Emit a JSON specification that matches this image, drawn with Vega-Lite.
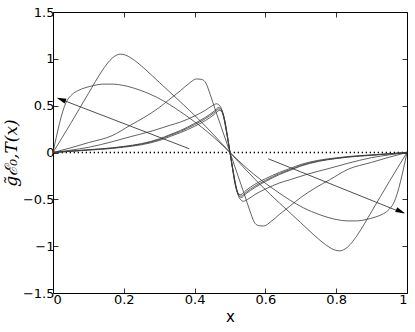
{
  "$schema": "https://vega.github.io/schema/vega-lite/v6.json",
  "width": 354,
  "height": 281,
  "autosize": "none",
  "padding": {"left": 53, "top": 12, "right": 8, "bottom": 39},
  "background": "white",
  "config": {
    "view": {"stroke": null},
    "axis": {
      "domainColor": "#000000",
      "domainWidth": 1,
      "tickColor": "#000000",
      "tickSize": -5,
      "tickWidth": 0.8,
      "grid": false,
      "labelFont": "DejaVu Sans",
      "labelFontSize": 13,
      "labelColor": "#000000",
      "titleColor": "#000000",
      "titleFontWeight": "normal"
    }
  },
  "datasets": {
    "curves": [
      {"s":"A","x":0,"y":0},{"s":"A","x":0.05,"y":0.31},{"s":"A","x":0.1,"y":0.63},{"s":"A","x":0.14,"y":0.88},{"s":"A","x":0.16,"y":0.98},{"s":"A","x":0.175,"y":1.03},{"s":"A","x":0.19,"y":1.05},{"s":"A","x":0.205,"y":1.04},{"s":"A","x":0.22,"y":1.01},{"s":"A","x":0.24,"y":0.955},{"s":"A","x":0.26,"y":0.89},{"s":"A","x":0.3,"y":0.75},{"s":"A","x":0.33,"y":0.645},{"s":"A","x":0.36,"y":0.54},{"s":"A","x":0.41,"y":0.36},{"s":"A","x":0.455,"y":0.185},{"s":"A","x":0.5,"y":0},
      {"s":"A","x":0.545,"y":-0.185},{"s":"A","x":0.59,"y":-0.36},{"s":"A","x":0.64,"y":-0.54},{"s":"A","x":0.67,"y":-0.645},{"s":"A","x":0.7,"y":-0.75},{"s":"A","x":0.74,"y":-0.89},{"s":"A","x":0.76,"y":-0.955},{"s":"A","x":0.78,"y":-1.01},{"s":"A","x":0.795,"y":-1.04},{"s":"A","x":0.81,"y":-1.05},{"s":"A","x":0.825,"y":-1.03},{"s":"A","x":0.84,"y":-0.98},{"s":"A","x":0.86,"y":-0.88},{"s":"A","x":0.9,"y":-0.63},{"s":"A","x":0.95,"y":-0.31},{"s":"A","x":1,"y":0},

      {"s":"B","x":0,"y":0},{"s":"B","x":0.037,"y":0.535},{"s":"B","x":0.054,"y":0.62},{"s":"B","x":0.07,"y":0.66},{"s":"B","x":0.09,"y":0.69},{"s":"B","x":0.115,"y":0.715},{"s":"B","x":0.14,"y":0.73},{"s":"B","x":0.17,"y":0.73},{"s":"B","x":0.2,"y":0.715},{"s":"B","x":0.246,"y":0.665},{"s":"B","x":0.293,"y":0.59},{"s":"B","x":0.33,"y":0.51},{"s":"B","x":0.36,"y":0.435},{"s":"B","x":0.41,"y":0.3},{"s":"B","x":0.455,"y":0.16},{"s":"B","x":0.5,"y":0},
      {"s":"B","x":0.545,"y":-0.16},{"s":"B","x":0.59,"y":-0.3},{"s":"B","x":0.64,"y":-0.435},{"s":"B","x":0.67,"y":-0.51},{"s":"B","x":0.707,"y":-0.59},{"s":"B","x":0.754,"y":-0.665},{"s":"B","x":0.8,"y":-0.715},{"s":"B","x":0.83,"y":-0.73},{"s":"B","x":0.86,"y":-0.73},{"s":"B","x":0.885,"y":-0.715},{"s":"B","x":0.91,"y":-0.69},{"s":"B","x":0.93,"y":-0.66},{"s":"B","x":0.946,"y":-0.62},{"s":"B","x":0.963,"y":-0.535},{"s":"B","x":1,"y":0},

      {"s":"C","x":0,"y":0},{"s":"C","x":0.05,"y":0.05},{"s":"C","x":0.1,"y":0.105},{"s":"C","x":0.167,"y":0.18},{"s":"C","x":0.218,"y":0.29},{"s":"C","x":0.26,"y":0.38},{"s":"C","x":0.3,"y":0.48},{"s":"C","x":0.33,"y":0.57},{"s":"C","x":0.36,"y":0.66},{"s":"C","x":0.385,"y":0.74},{"s":"C","x":0.405,"y":0.785},{"s":"C","x":0.42,"y":0.78},{"s":"C","x":0.432,"y":0.74},{"s":"C","x":0.444,"y":0.62},{"s":"C","x":0.46,"y":0.44},{"s":"C","x":0.48,"y":0.22},{"s":"C","x":0.5,"y":0},
      {"s":"C","x":0.52,"y":-0.22},{"s":"C","x":0.54,"y":-0.44},{"s":"C","x":0.556,"y":-0.62},{"s":"C","x":0.568,"y":-0.74},{"s":"C","x":0.58,"y":-0.78},{"s":"C","x":0.595,"y":-0.785},{"s":"C","x":0.615,"y":-0.74},{"s":"C","x":0.64,"y":-0.66},{"s":"C","x":0.67,"y":-0.57},{"s":"C","x":0.7,"y":-0.48},{"s":"C","x":0.74,"y":-0.38},{"s":"C","x":0.782,"y":-0.29},{"s":"C","x":0.833,"y":-0.18},{"s":"C","x":0.9,"y":-0.105},{"s":"C","x":0.95,"y":-0.05},{"s":"C","x":1,"y":0},

      {"s":"D","x":0,"y":0},{"s":"D","x":0.05,"y":0.025},{"s":"D","x":0.1,"y":0.055},{"s":"D","x":0.167,"y":0.115},{"s":"D","x":0.22,"y":0.17},{"s":"D","x":0.28,"y":0.23},{"s":"D","x":0.33,"y":0.29},{"s":"D","x":0.36,"y":0.325},{"s":"D","x":0.4,"y":0.39},{"s":"D","x":0.43,"y":0.45},{"s":"D","x":0.45,"y":0.5},{"s":"D","x":0.462,"y":0.52},{"s":"D","x":0.472,"y":0.495},{"s":"D","x":0.48,"y":0.41},{"s":"D","x":0.49,"y":0.22},{"s":"D","x":0.5,"y":0},
      {"s":"D","x":0.51,"y":-0.22},{"s":"D","x":0.52,"y":-0.41},{"s":"D","x":0.528,"y":-0.495},{"s":"D","x":0.538,"y":-0.52},{"s":"D","x":0.55,"y":-0.5},{"s":"D","x":0.57,"y":-0.45},{"s":"D","x":0.6,"y":-0.39},{"s":"D","x":0.64,"y":-0.325},{"s":"D","x":0.67,"y":-0.29},{"s":"D","x":0.72,"y":-0.23},{"s":"D","x":0.78,"y":-0.17},{"s":"D","x":0.833,"y":-0.115},{"s":"D","x":0.9,"y":-0.055},{"s":"D","x":0.95,"y":-0.025},{"s":"D","x":1,"y":0},

      {"s":"E","x":0,"y":0},{"s":"E","x":0.1,"y":0.03},{"s":"E","x":0.167,"y":0.05},{"s":"E","x":0.2,"y":0.065},{"s":"E","x":0.25,"y":0.095},{"s":"E","x":0.3,"y":0.145},{"s":"E","x":0.33,"y":0.19},{"s":"E","x":0.36,"y":0.235},{"s":"E","x":0.4,"y":0.31},{"s":"E","x":0.43,"y":0.375},{"s":"E","x":0.455,"y":0.44},{"s":"E","x":0.468,"y":0.48},{"s":"E","x":0.476,"y":0.46},{"s":"E","x":0.484,"y":0.36},{"s":"E","x":0.492,"y":0.19},{"s":"E","x":0.5,"y":0},
      {"s":"E","x":0.508,"y":-0.19},{"s":"E","x":0.516,"y":-0.36},{"s":"E","x":0.524,"y":-0.46},{"s":"E","x":0.532,"y":-0.48},{"s":"E","x":0.545,"y":-0.44},{"s":"E","x":0.57,"y":-0.375},{"s":"E","x":0.6,"y":-0.31},{"s":"E","x":0.64,"y":-0.235},{"s":"E","x":0.67,"y":-0.19},{"s":"E","x":0.7,"y":-0.145},{"s":"E","x":0.75,"y":-0.095},{"s":"E","x":0.8,"y":-0.065},{"s":"E","x":0.833,"y":-0.05},{"s":"E","x":0.9,"y":-0.03},{"s":"E","x":1,"y":0},

      {"s":"F","x":0,"y":0},{"s":"F","x":0.1,"y":0.028},{"s":"F","x":0.167,"y":0.047},{"s":"F","x":0.2,"y":0.062},{"s":"F","x":0.25,"y":0.09},{"s":"F","x":0.3,"y":0.138},{"s":"F","x":0.33,"y":0.182},{"s":"F","x":0.36,"y":0.225},{"s":"F","x":0.4,"y":0.298},{"s":"F","x":0.43,"y":0.36},{"s":"F","x":0.455,"y":0.425},{"s":"F","x":0.468,"y":0.465},{"s":"F","x":0.476,"y":0.445},{"s":"F","x":0.484,"y":0.35},{"s":"F","x":0.492,"y":0.18},{"s":"F","x":0.5,"y":0},
      {"s":"F","x":0.508,"y":-0.18},{"s":"F","x":0.516,"y":-0.35},{"s":"F","x":0.524,"y":-0.445},{"s":"F","x":0.532,"y":-0.465},{"s":"F","x":0.545,"y":-0.425},{"s":"F","x":0.57,"y":-0.36},{"s":"F","x":0.6,"y":-0.298},{"s":"F","x":0.64,"y":-0.225},{"s":"F","x":0.67,"y":-0.182},{"s":"F","x":0.7,"y":-0.138},{"s":"F","x":0.75,"y":-0.09},{"s":"F","x":0.8,"y":-0.062},{"s":"F","x":0.833,"y":-0.047},{"s":"F","x":0.9,"y":-0.028},{"s":"F","x":1,"y":0},

      {"s":"G","x":0,"y":0},{"s":"G","x":0.1,"y":0.025},{"s":"G","x":0.167,"y":0.043},{"s":"G","x":0.2,"y":0.057},{"s":"G","x":0.25,"y":0.083},{"s":"G","x":0.3,"y":0.128},{"s":"G","x":0.33,"y":0.17},{"s":"G","x":0.36,"y":0.212},{"s":"G","x":0.4,"y":0.28},{"s":"G","x":0.43,"y":0.34},{"s":"G","x":0.455,"y":0.405},{"s":"G","x":0.47,"y":0.45},{"s":"G","x":0.478,"y":0.43},{"s":"G","x":0.486,"y":0.33},{"s":"G","x":0.493,"y":0.17},{"s":"G","x":0.5,"y":0},
      {"s":"G","x":0.507,"y":-0.17},{"s":"G","x":0.514,"y":-0.33},{"s":"G","x":0.522,"y":-0.43},{"s":"G","x":0.53,"y":-0.45},{"s":"G","x":0.545,"y":-0.405},{"s":"G","x":0.57,"y":-0.34},{"s":"G","x":0.6,"y":-0.28},{"s":"G","x":0.64,"y":-0.212},{"s":"G","x":0.67,"y":-0.17},{"s":"G","x":0.7,"y":-0.128},{"s":"G","x":0.75,"y":-0.083},{"s":"G","x":0.8,"y":-0.057},{"s":"G","x":0.833,"y":-0.043},{"s":"G","x":0.9,"y":-0.025},{"s":"G","x":1,"y":0}
    ],
    "arrows": [
      {"a":"1","x":0.385,"y":0.04},{"a":"1","x":0.015,"y":0.578},
      {"a":"2","x":0.608,"y":-0.067},{"a":"2","x":0.99,"y":-0.648}
    ],
    "heads": [
      {"a":"1","x":0.023,"y":0.567},
      {"a":"2","x":0.982,"y":-0.629}
    ],
    "zero": [{"y":0}]
  },
  "resolve": {"axis": {"x": "independent", "y": "independent"}},
  "layer": [
    {
      "data": {"name": "zero"},
      "mark": {"type": "rule", "color": "#000000", "strokeWidth": 1.3, "strokeDash": [1.3, 2.7]},
      "encoding": {
        "y": {"field": "y", "type": "quantitative", "scale": {"domain": [-1.5, 1.5], "nice": false}, "axis": null}
      }
    },
    {
      "data": {"name": "curves"},
      "mark": {"type": "line", "color": "#3a3a3a", "strokeWidth": 0.8, "interpolate": "monotone"},
      "encoding": {
        "x": {"field": "x", "type": "quantitative", "scale": {"domain": [0, 1], "nice": false},
              "axis": {"orient": "bottom", "values": [0, 0.2, 0.4, 0.6, 0.8, 1], "format": "~g", "labelPadding": 5, "title": "x", "titleFont": "DejaVu Sans", "titleFontSize": 15, "titlePadding": 3}},
        "y": {"field": "y", "type": "quantitative", "scale": {"domain": [-1.5, 1.5], "nice": false},
              "axis": {"orient": "left", "values": [-1.5, -1, -0.5, 0, 0.5, 1, 1.5], "format": "~g", "labelPadding": 4, "title": "g̃ℰ₀,T(x)", "titleFont": "DejaVu Serif", "titleFontStyle": "italic", "titleFontSize": 17, "titlePadding": 2}},
        "detail": {"field": "s", "type": "nominal"}
      }
    },
    {
      "data": {"name": "arrows"},
      "mark": {"type": "line", "color": "#3a3a3a", "strokeWidth": 0.9},
      "encoding": {
        "x": {"field": "x", "type": "quantitative", "scale": {"domain": [0, 1], "nice": false},
              "axis": {"orient": "top", "values": [0, 0.2, 0.4, 0.6, 0.8, 1], "labels": false, "title": null}},
        "y": {"field": "y", "type": "quantitative", "scale": {"domain": [-1.5, 1.5], "nice": false},
              "axis": {"orient": "right", "values": [-1.5, -1, -0.5, 0, 0.5, 1, 1.5], "labels": false, "title": null}},
        "detail": {"field": "a", "type": "nominal"}
      }
    },
    {
      "data": {"name": "heads"},
      "transform": [{"filter": "datum.a == '1'"}],
      "mark": {"type": "point", "shape": "M0,-1L0.55,1L-0.55,1Z", "filled": true, "color": "#000000", "opacity": 1, "size": 90, "angle": 291},
      "encoding": {
        "x": {"field": "x", "type": "quantitative", "scale": {"domain": [0, 1], "nice": false}, "axis": null},
        "y": {"field": "y", "type": "quantitative", "scale": {"domain": [-1.5, 1.5], "nice": false}, "axis": null}
      }
    },
    {
      "data": {"name": "heads"},
      "transform": [{"filter": "datum.a == '2'"}],
      "mark": {"type": "point", "shape": "M0,-1L0.55,1L-0.55,1Z", "filled": true, "color": "#000000", "opacity": 1, "size": 90, "angle": 112},
      "encoding": {
        "x": {"field": "x", "type": "quantitative", "scale": {"domain": [0, 1], "nice": false}, "axis": null},
        "y": {"field": "y", "type": "quantitative", "scale": {"domain": [-1.5, 1.5], "nice": false}, "axis": null}
      }
    }
  ]
}
